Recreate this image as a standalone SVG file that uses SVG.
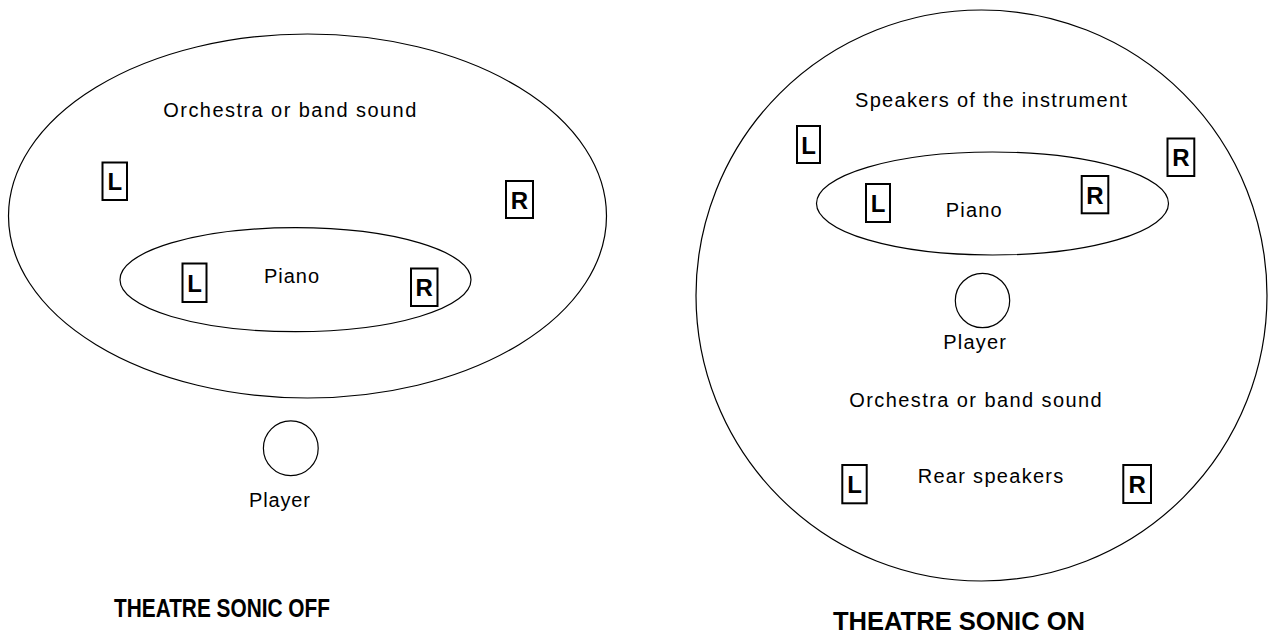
<svg xmlns="http://www.w3.org/2000/svg" width="1268" height="635" viewBox="0 0 1268 635">
<style>
.ln{fill:none;stroke:#000;stroke-width:1.2}
.bx{fill:#fff;stroke:#000;stroke-width:2}
.t{font-family:"Liberation Sans",Arial,sans-serif;font-size:20px;fill:#000}
.sp{font-family:"Liberation Sans",Arial,sans-serif;font-size:24px;font-weight:bold;fill:#000;text-anchor:middle}
.ti{font-family:"Liberation Sans",Arial,sans-serif;font-size:25px;font-weight:bold;fill:#000}
</style>
<rect width="1268" height="635" fill="#fff"/>
<g id="off">
  <g id="off-orchestra">
    <ellipse class="ln" cx="307.5" cy="216" rx="299" ry="182"/>
    <text class="t" x="163.3" y="117" textLength="253" lengthAdjust="spacing">Orchestra or band sound</text>
  </g>
  <g id="off-orch-L"><rect class="bx" x="102.5" y="162.5" width="24.5" height="37.5"/><text class="sp" x="114.8" y="190">L</text></g>
  <g id="off-orch-R"><rect class="bx" x="506" y="181" width="27" height="37"/><text class="sp" x="519.5" y="208.5">R</text></g>
  <g id="off-piano">
    <ellipse class="ln" cx="295.5" cy="279.7" rx="175.5" ry="52"/>
    <text class="t" x="264" y="283" textLength="55" lengthAdjust="spacing">Piano</text>
  </g>
  <g id="off-piano-L"><rect class="bx" x="182.5" y="263.5" width="24" height="38.5"/><text class="sp" x="194.5" y="291.5">L</text></g>
  <g id="off-piano-R"><rect class="bx" x="411" y="268.5" width="26.5" height="37.5"/><text class="sp" x="424.2" y="296">R</text></g>
  <g id="off-player">
    <circle class="ln" cx="290.8" cy="448.3" r="27.4"/>
    <text class="t" x="249" y="507" textLength="61" lengthAdjust="spacing">Player</text>
  </g>
  <text id="off-title" class="ti" x="114" y="617" textLength="216" lengthAdjust="spacingAndGlyphs">THEATRE SONIC OFF</text>
</g>
<g id="on">
  <g id="on-room">
    <circle class="ln" cx="981.5" cy="295.5" r="285.5"/>
    <text class="t" x="855" y="106.5" textLength="272" lengthAdjust="spacing">Speakers of the instrument</text>
    <text class="t" x="849.3" y="406.7" textLength="252.4" lengthAdjust="spacing">Orchestra or band sound</text>
  </g>
  <g id="on-inst-L"><rect class="bx" x="797" y="126" width="23" height="37"/><text class="sp" x="808.5" y="153.5">L</text></g>
  <g id="on-inst-R"><rect class="bx" x="1167.5" y="138.5" width="26.8" height="37.5"/><text class="sp" x="1180.9" y="166">R</text></g>
  <g id="on-piano">
    <ellipse class="ln" cx="992.5" cy="203.5" rx="176" ry="51.5"/>
    <text class="t" x="945.7" y="216.5" textLength="56" lengthAdjust="spacing">Piano</text>
  </g>
  <g id="on-piano-L"><rect class="bx" x="866" y="184" width="24" height="38"/><text class="sp" x="878" y="211.5">L</text></g>
  <g id="on-piano-R"><rect class="bx" x="1081.7" y="176" width="26.6" height="37.3"/><text class="sp" x="1095" y="203.5">R</text></g>
  <g id="on-player">
    <circle class="ln" cx="982.5" cy="300.5" r="27.2"/>
    <text class="t" x="943.3" y="349.3" textLength="62.7" lengthAdjust="spacing">Player</text>
  </g>
  <g id="on-rear">
    <text class="t" x="917.7" y="482.7" textLength="145.6" lengthAdjust="spacing">Rear speakers</text>
  </g>
  <g id="on-rear-L"><rect class="bx" x="842.3" y="465" width="24.4" height="38.3"/><text class="sp" x="854.5" y="493">L</text></g>
  <g id="on-rear-R"><rect class="bx" x="1123.3" y="465" width="27.7" height="38"/><text class="sp" x="1137.2" y="493">R</text></g>
  <text id="on-title" class="ti" x="833" y="630" textLength="252" lengthAdjust="spacingAndGlyphs">THEATRE SONIC ON</text>
</g>
</svg>
